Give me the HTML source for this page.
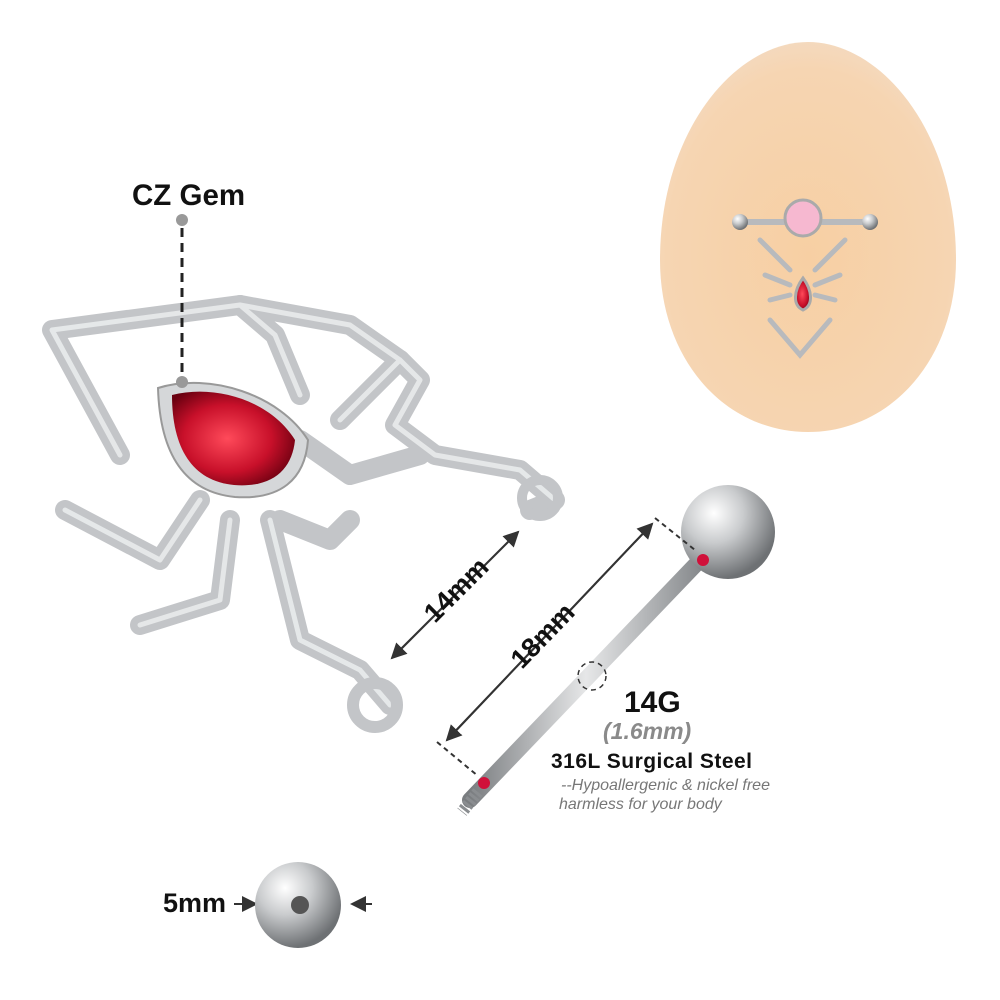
<!DOCTYPE html>
<html><head><meta charset="utf-8"><style>
html,body{margin:0;padding:0;background:#fff;}
svg{display:block;}
text{font-family:"Liberation Sans",Arial,sans-serif;}
</style></head><body>
<svg width="1000" height="1000" viewBox="0 0 1000 1000" xmlns="http://www.w3.org/2000/svg">
<defs>
<radialGradient id="skin" cx="50%" cy="55%" r="60%">
<stop offset="0" stop-color="#f7cfa3"/><stop offset="0.8" stop-color="#f6d5b2"/><stop offset="1" stop-color="#f3dcc6"/>
</radialGradient>
<radialGradient id="ball" cx="35%" cy="30%" r="70%">
<stop offset="0" stop-color="#ffffff"/><stop offset="0.45" stop-color="#c9cbcd"/><stop offset="1" stop-color="#6e7174"/>
</radialGradient>
<linearGradient id="bar" x1="0" y1="0" x2="1" y2="0">
<stop offset="0" stop-color="#7a7d80"/><stop offset="0.5" stop-color="#e6e7e8"/><stop offset="1" stop-color="#85888b"/>
</linearGradient>
<radialGradient id="gem" cx="45%" cy="50%" r="60%">
<stop offset="0" stop-color="#ff4a5a"/><stop offset="0.6" stop-color="#c8102a"/><stop offset="1" stop-color="#6a0010"/>
</radialGradient>
<marker id="ar" markerWidth="8" markerHeight="8" refX="7" refY="4" orient="auto"><path d="M0,0 L8,4 L0,8 z" fill="#333"/></marker>
</defs>

<path d="M808,42 C880,42 956,130 956,260 C956,360 890,432 808,432 C725,432 660,360 660,260 C660,130 736,42 808,42 Z" fill="url(#skin)"/>
<g stroke="#b8babd" stroke-width="5" fill="none" stroke-linecap="round">
<line x1="740" y1="222" x2="870" y2="222" stroke-width="6"/>
<path d="M760,240 L790,270 M845,240 L815,270 M765,275 L790,285 M840,275 L815,285 M770,300 L790,295 M835,300 L815,295 M770,320 L800,355 L830,320"/>
</g>
<circle cx="740" cy="222" r="8" fill="url(#ball)"/><circle cx="870" cy="222" r="8" fill="url(#ball)"/>
<circle cx="803" cy="218" r="18" fill="#f6b8d0" stroke="#aaa" stroke-width="3"/>
<path d="M803,278 C794,290 792,305 803,310 C814,305 812,290 803,278Z" fill="url(#gem)" stroke="#aaa" stroke-width="3"/>

<g stroke="#c3c5c8" stroke-width="20" fill="none" stroke-linecap="round" stroke-linejoin="round">
<path d="M120,455 L52,330 L240,305 L275,335 L300,395"/>
<path d="M240,305 L350,325 L400,360 L340,420"/>
<path d="M400,360 L420,380 L395,425 L435,455 L520,470 L555,500 L530,510"/>
<path d="M300,440 L350,475 L420,455"/>
<path d="M200,500 L160,560 L65,510"/>
<path d="M230,520 L220,600 L140,625"/>
<path d="M270,520 L290,600 L300,640 L360,670 L390,705"/>
<path d="M280,520 L330,540 L350,520"/>
</g>
<g stroke="#eef0f1" stroke-width="5" fill="none" stroke-linecap="round" stroke-linejoin="round" opacity="0.8">
<path d="M120,455 L52,330 L240,305 L275,335 L300,395"/>
<path d="M240,305 L350,325 L400,360 L340,420"/>
<path d="M400,360 L420,380 L395,425 L435,455 L520,470 L555,500"/>
<path d="M200,500 L160,560 L65,510"/>
<path d="M230,520 L220,600 L140,625"/>
<path d="M270,520 L290,600 L300,640 L360,670 L390,705"/>
</g>
<circle cx="375" cy="705" r="22" fill="none" stroke="#c3c5c8" stroke-width="12"/>
<circle cx="540" cy="498" r="18" fill="none" stroke="#c3c5c8" stroke-width="10"/>
<path d="M158,388 C210,372 280,395 308,440 C305,480 280,500 235,497 C185,492 160,455 158,388Z" fill="#d5d7d9" stroke="#999" stroke-width="2"/>
<path d="M172,395 C215,384 270,400 295,440 C292,470 272,488 234,485 C192,481 172,448 172,395Z" fill="url(#gem)"/>

<text x="132" y="205" font-size="29.5" font-weight="bold" fill="#111">CZ Gem</text>
<circle cx="182" cy="220" r="6" fill="#999"/>
<line x1="182" y1="228" x2="182" y2="378" stroke="#222" stroke-width="3" stroke-dasharray="9,6"/>
<circle cx="182" cy="382" r="6" fill="#999"/>

<line x1="518" y1="532" x2="392" y2="658" stroke="#333" stroke-width="2" marker-end="url(#ar)"/>
<line x1="392" y1="658" x2="518" y2="532" stroke="#333" stroke-width="2" marker-end="url(#ar)"/>
<text x="0" y="0" font-size="27" font-weight="bold" fill="#111" transform="translate(435,624) rotate(-45)">14mm</text>

<line x1="702" y1="558" x2="470" y2="800" stroke="url(#bar)" stroke-width="16" stroke-linecap="round"/>
<line x1="478" y1="792" x2="462" y2="812" stroke="#8a8d90" stroke-width="12" stroke-dasharray="3,2"/>
<circle cx="728" cy="532" r="47" fill="url(#ball)"/>
<circle cx="703" cy="560" r="6" fill="#d0103a"/>
<circle cx="484" cy="783" r="6" fill="#d0103a"/>
<line x1="655" y1="518" x2="695" y2="550" stroke="#333" stroke-width="2" stroke-dasharray="5,4"/>
<line x1="437" y1="742" x2="478" y2="776" stroke="#333" stroke-width="2" stroke-dasharray="5,4"/>
<line x1="652" y1="524" x2="447" y2="740" stroke="#333" stroke-width="2" marker-end="url(#ar)"/>
<line x1="447" y1="740" x2="652" y2="524" stroke="#333" stroke-width="2" marker-end="url(#ar)"/>
<text x="0" y="0" font-size="27" font-weight="bold" fill="#111" transform="translate(522,670) rotate(-46)">18mm</text>
<circle cx="592" cy="676" r="14" fill="none" stroke="#333" stroke-width="1.5" stroke-dasharray="5,4"/>

<text x="624" y="712" font-size="30" font-weight="bold" fill="#111">14G</text>
<text x="603" y="739" font-size="23" font-weight="bold" font-style="italic" fill="#8a8a8a">(1.6mm)</text>
<text x="551" y="768" font-size="21" font-weight="bold" fill="#111" textLength="201">316L Surgical Steel</text>
<text x="561" y="790" font-size="16" font-style="italic" fill="#777">--Hypoallergenic &amp; nickel free</text>
<text x="559" y="809" font-size="16" font-style="italic" fill="#777">harmless for your body</text>

<text x="163" y="912" font-size="27" font-weight="bold" fill="#111">5mm</text>
<line x1="234" y1="904" x2="256" y2="904" stroke="#333" stroke-width="2" marker-end="url(#ar)"/>
<circle cx="298" cy="905" r="43" fill="url(#ball)"/>
<circle cx="300" cy="905" r="9" fill="#555"/>
<line x1="372" y1="904" x2="352" y2="904" stroke="#333" stroke-width="2" marker-end="url(#ar)"/>
</svg>
</body></html>
